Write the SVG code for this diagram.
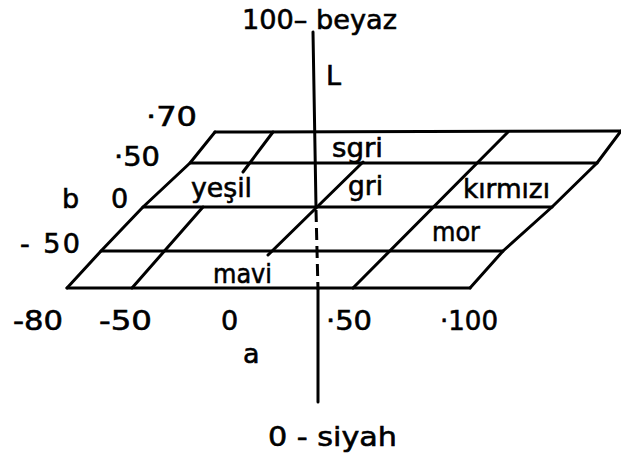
<svg xmlns="http://www.w3.org/2000/svg" width="621" height="459" viewBox="0 0 621 459">
<style>
.ln{stroke:#000;stroke-width:3;fill:none;stroke-linecap:round;stroke-linejoin:round}
.dash{stroke:#000;stroke-width:3;fill:none;stroke-dasharray:12 6}
text{font-family:"DejaVu Sans","Liberation Sans",sans-serif;font-size:27px;fill:#000;stroke:#000;stroke-width:0.6}
</style>
<rect width="621" height="459" fill="#fff"/>
<g id="grid">
<polyline class="ln" points="621,131 597,163 552,207 503,251 470,288"/>
<polyline class="ln" points="215,132 190,163 143,207 101,251 67,288"/>
<line class="ln" x1="215" y1="132" x2="621" y2="131"/>
<line class="ln" x1="190" y1="163" x2="597" y2="163"/>
<line class="ln" x1="143" y1="207" x2="552" y2="207"/>
<line class="ln" x1="101" y1="251" x2="503" y2="251"/>
<line class="ln" x1="67" y1="288" x2="470" y2="288"/>
<line class="ln" x1="273" y1="132" x2="243" y2="172"/>
<line class="ln" x1="203" y1="207" x2="132" y2="288"/>
<line class="ln" x1="363" y1="162" x2="268" y2="255"/>
<line class="ln" x1="508" y1="132" x2="353" y2="288"/>
</g>
<g id="L-axis">
<line class="ln" x1="313" y1="32" x2="316" y2="207"/>
<line class="dash" x1="316" y1="210" x2="318" y2="290"/>
<line class="ln" x1="318" y1="290" x2="318" y2="402"/>
</g>
<g id="labels">
<text x="242" y="29" textLength="155" lengthAdjust="spacingAndGlyphs">100– beyaz</text>
<text x="326" y="85">L</text>
<text x="146" y="126" textLength="51" lengthAdjust="spacingAndGlyphs">·70</text>
<text x="114" y="166" textLength="46" lengthAdjust="spacingAndGlyphs">·50</text>
<text x="62" y="208">b</text>
<text x="111" y="208">0</text>
<text x="20" y="253" textLength="60" lengthAdjust="spacing">- 50</text>
<text x="191" y="197" textLength="61" lengthAdjust="spacingAndGlyphs">yeşil</text>
<text x="332" y="157" textLength="51" lengthAdjust="spacingAndGlyphs">sgri</text>
<text x="348" y="195" textLength="35" lengthAdjust="spacingAndGlyphs">gri</text>
<text x="463" y="198" textLength="87" lengthAdjust="spacingAndGlyphs">kırmızı</text>
<text x="432" y="241" textLength="48" lengthAdjust="spacingAndGlyphs">mor</text>
<text x="213" y="283" textLength="59" lengthAdjust="spacingAndGlyphs">mavi</text>
<text x="13" y="330" textLength="50" lengthAdjust="spacingAndGlyphs">-80</text>
<text x="99" y="330" textLength="53" lengthAdjust="spacingAndGlyphs">-50</text>
<text x="221" y="330">0</text>
<text x="326" y="330" textLength="46" lengthAdjust="spacingAndGlyphs">·50</text>
<text x="440" y="330" textLength="58" lengthAdjust="spacingAndGlyphs">·100</text>
<text x="243" y="363">a</text>
<text x="268" y="446" textLength="129" lengthAdjust="spacingAndGlyphs">0 - siyah</text>
</g>
</svg>
